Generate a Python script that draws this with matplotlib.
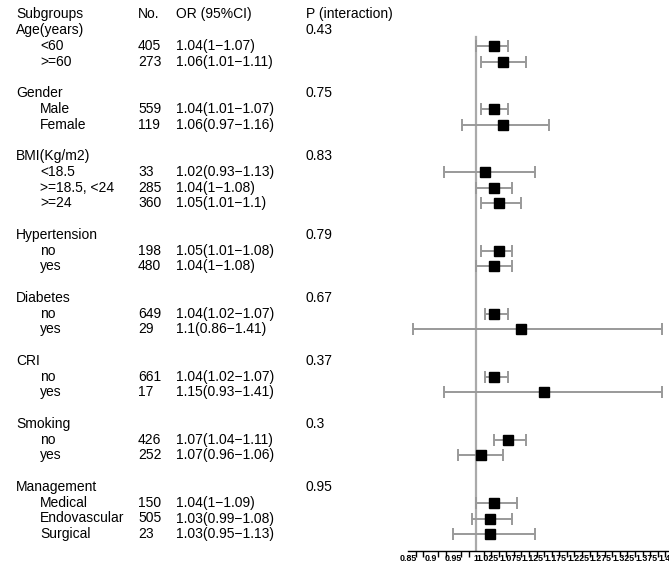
import numpy as np
import matplotlib
matplotlib.use("Agg")
import matplotlib.pyplot as plt
from matplotlib.transforms import blended_transform_factory

plt.rcParams['font.family'] = ['Liberation Sans', 'DejaVu Sans']

# groups and interaction p-values
groups = ["Age(years)", "Gender", "BMI(Kg/m2)", "Hypertension",
          "Diabetes", "CRI", "Smoking", "Management"]
p_inter = ["0.43", "0.75", "0.83", "0.79", "0.67", "0.37", "0.3", "0.95"]
group_sizes = [2, 2, 3, 2, 2, 2, 2, 3]

# subgroup rows
sub_labels = ["<60", ">=60", "Male", "Female", "<18.5", ">=18.5, <24", ">=24",
              "no", "yes", "no", "yes", "no", "yes", "no", "yes",
              "Medical", "Endovascular", "Surgical"]
n_obs = [405, 273, 559, 119, 33, 285, 360, 198, 480, 649, 29, 661, 17,
         426, 252, 150, 505, 23]
or_text = ["1.04(1\u22121.07)", "1.06(1.01\u22121.11)", "1.04(1.01\u22121.07)",
           "1.06(0.97\u22121.16)", "1.02(0.93\u22121.13)", "1.04(1\u22121.08)",
           "1.05(1.01\u22121.1)", "1.05(1.01\u22121.08)", "1.04(1\u22121.08)",
           "1.04(1.02\u22121.07)", "1.1(0.86\u22121.41)", "1.04(1.02\u22121.07)",
           "1.15(0.93\u22121.41)", "1.07(1.04\u22121.11)", "1.07(0.96\u22121.06)",
           "1.04(1\u22121.09)", "1.03(0.99\u22121.08)", "1.03(0.95\u22121.13)"]
or_est = [1.04, 1.06, 1.04, 1.06, 1.02, 1.04, 1.05, 1.05, 1.04, 1.04, 1.10,
          1.04, 1.15, 1.07, 1.01, 1.04, 1.03, 1.03]
ci_lo = [1.00, 1.01, 1.01, 0.97, 0.93, 1.00, 1.01, 1.01, 1.00, 1.02, 0.86,
         1.02, 0.93, 1.04, 0.96, 1.00, 0.99, 0.95]
ci_hi = [1.07, 1.11, 1.07, 1.16, 1.13, 1.08, 1.10, 1.08, 1.08, 1.07, 1.41,
         1.07, 1.41, 1.11, 1.06, 1.09, 1.08, 1.13]

tick_labels = ["0.85", "0.9", "0.95", "1", "1.025", "1.075", "1.125", "1.175",
               "1.225", "1.275", "1.325", "1.375", "1.425"]

# row layout: header row 0, each group header then subgroups, blank line between
group_rows = []
sub_rows = []
r = 1
for size in group_sizes:
    group_rows.append(r)
    sub_rows.extend(range(r + 1, r + 1 + size))
    r += size + 2
sub_rows = np.array(sub_rows)

W, H = 669, 564
fig = plt.figure(figsize=(W / 100, H / 100), dpi=100)
y_top_px, row_h, axis_px = 14.5, 15.75, 551
ax_left = 408
ax = fig.add_axes([ax_left / W, (H - axis_px) / H, (W - ax_left) / W, axis_px / H])
x0 = 0.85
x1 = x0 + (W - ax_left) / 460
ax.set_xlim(x0, x1)
ax.set_ylim((axis_px - y_top_px) / row_h, -y_top_px / row_h)

# reference line at 1
ax.plot([1, 1], [1.4, ax.get_ylim()[0]], color="#aaaaaa", lw=1.6, zorder=1)

est = np.array(or_est)
ax.errorbar(est, sub_rows,
            xerr=[est - np.array(ci_lo), np.array(ci_hi) - est],
            fmt="none", ecolor="#999999", elinewidth=1.4, capsize=4.6,
            capthick=1.4, zorder=2, clip_on=False)
ax.plot(est, sub_rows, "s", color="black", ms=6.5, zorder=3, clip_on=False)

for side in ["top", "right", "left"]:
    ax.spines[side].set_visible(False)
ax.spines["bottom"].set_linewidth(1.0)
ax.set_yticks([])
ax.set_xticks([float(t) for t in tick_labels])
ax.set_xticklabels(tick_labels, fontsize=6.4, fontweight="bold")
ax.tick_params(axis="x", which="major", length=0, pad=2.5)
ax.set_xticks(np.arange(x0, x1 + 0.001, 0.05 / 3), minor=True)
ax.tick_params(axis="x", which="minor", length=4, width=1.0, direction="out")

# text columns
tr = blended_transform_factory(fig.transFigure, ax.transData)
fs = 10
col_x = {"label": 16 / W, "sub": 40 / W, "n": 138 / W, "or": 176 / W, "p": 306 / W}
ax.text(col_x["label"], 0, "Subgroups", transform=tr, fontsize=fs, va="center")
ax.text(col_x["n"], 0, "No.", transform=tr, fontsize=fs, va="center")
ax.text(col_x["or"], 0, "OR (95%CI)", transform=tr, fontsize=fs, va="center")
ax.text(col_x["p"], 0, "P (interaction)", transform=tr, fontsize=fs, va="center")

for g, row, p in zip(groups, group_rows, p_inter):
    ax.text(col_x["label"], row, g, transform=tr, fontsize=fs, va="center")
    ax.text(col_x["p"], row, p, transform=tr, fontsize=fs, va="center")

for lab, row, n, txt in zip(sub_labels, sub_rows, n_obs, or_text):
    ax.text(col_x["sub"], row, lab, transform=tr, fontsize=fs, va="center")
    ax.text(col_x["n"], row, str(n), transform=tr, fontsize=fs, va="center")
    ax.text(col_x["or"], row, txt, transform=tr, fontsize=fs, va="center")

fig.savefig("out.png", dpi=100)
